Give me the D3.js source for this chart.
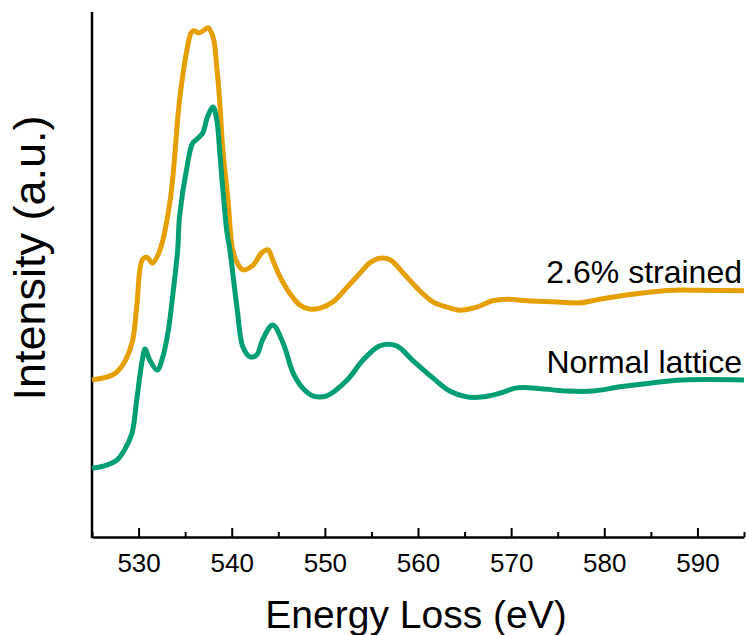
<!DOCTYPE html>
<html>
<head>
<meta charset="utf-8">
<script src="https://cdn.jsdelivr.net/npm/d3@7"></script>
<style>
  body { margin: 0; background: #fff; }
  text { font-family: "Liberation Sans", Arial, sans-serif; fill: #000; }
</style>
</head>
<body>
<div id="chart"></div>
<script>
// energy loss (eV) and intensity (a.u.)
var strainedEnergy = [525.0, 527.25, 528.3, 529.3, 529.8, 530.4, 530.9, 531.5, 532.3, 533.4,
    534.4, 535.2, 535.7, 536.05, 536.4, 537.1, 537.45, 538.0, 538.4, 538.7, 539.05, 539.6,
    540.1, 540.6, 541.2, 542.3, 543.2, 543.9, 544.4, 545.2, 546.2, 547.3, 548.4, 549.5,
    550.9, 552.4, 553.8, 554.8, 555.9, 557.0, 558.4, 559.9, 561.6, 563.1, 564.5, 566.3,
    568.0, 569.5, 571.7, 574.5, 577.4, 579.5, 582.4, 585.2, 587.3, 590.2, 595.0];
var strainedIntensity = [29.9, 30.9, 32.8, 37.0, 43.8, 52.8, 53.3, 52.2, 54.7, 64.2,
    83.2, 92.8, 96.2, 96.4, 96.0, 96.6, 97.0, 95.2, 89.5, 83.2, 73.7, 64.2,
    54.7, 52.2, 50.9, 51.8, 54.1, 54.7, 52.8, 49.5, 46.5, 44.2, 43.4, 43.6,
    44.8, 47.6, 50.3, 52.2, 53.1, 52.8, 50.3, 47.4, 44.8, 43.8, 43.2, 43.8,
    45.0, 45.3, 45.0, 44.8, 44.6, 45.3, 46.1, 46.7, 47.0, 47.0, 46.9];

var normalEnergy = [525.0, 526.6, 527.7, 528.5, 529.3, 529.8, 530.4, 530.7, 531.2, 532.0,
    532.6, 533.2, 533.7, 534.2, 534.4, 535.2, 535.8, 536.4, 536.9, 537.4, 538.0, 538.4,
    538.7, 539.05, 539.5, 539.8, 540.6, 541.2, 542.0, 542.7, 543.3, 544.4, 545.5, 546.6,
    547.6, 548.7, 550.2, 552.4, 554.1, 555.9, 557.7, 559.4, 561.6, 563.4, 565.2, 567.0,
    568.8, 570.6, 572.3, 576.0, 578.8, 581.7, 584.9, 588.4, 595.0];
var normalIntensity = [13.1, 13.7, 14.7, 16.6, 19.8, 26.1, 33.7, 35.8, 33.7, 31.8,
    34.3, 39.4, 46.5, 54.7, 61.0, 70.5, 75.0, 76.0, 77.0, 80.0, 81.9, 79.4,
    73.7, 66.1, 57.9, 54.7, 43.2, 36.2, 34.3, 34.7, 37.5, 40.4, 37.0, 31.2,
    28.4, 26.9, 26.9, 29.9, 33.7, 36.4, 36.4, 33.7, 30.3, 27.8, 26.7, 26.7,
    27.4, 28.4, 28.4, 27.8, 27.8, 28.6, 29.3, 29.9, 29.9];

var seriesNames = ["2.6% strained", "Normal lattice"];
var seriesColors = ["#E69F00", "#009E73"];
var xTicks = [530, 540, 550, 560, 570, 580, 590];
var xMinorTicks = [525, 535, 545, 555, 565, 575, 585, 595];

var width = 746, height = 635;
// note: "top" is taken by window.top, so use plot* names
var plotLeft = 92, plotRight = 744, plotTop = 12, plotBottom = 537;

var svg = d3.select("#chart")
    .append("svg")
    .attr("width", width)
    .attr("height", height);

var xScale = d3.scaleLinear().domain([525, 595]).range([plotLeft, plotRight]);
var yScale = d3.scaleLinear().domain([0, 100]).range([plotBottom, plotTop]);

// minor ticks (short, pointing up)
svg.append("g")
    .attr("transform", "translate(0," + plotBottom + ")")
    .call(d3.axisBottom(xScale).tickValues(xMinorTicks).tickSizeInner(-5).tickSizeOuter(0).tickFormat(""))
    .call(function (g) { g.select(".domain").remove(); })
    .selectAll("line").attr("stroke", "#000").attr("stroke-width", 2);

// x axis with major ticks
var xAxis = svg.append("g")
    .attr("transform", "translate(0," + plotBottom + ")")
    .call(d3.axisBottom(xScale).tickValues(xTicks).tickSizeInner(-9).tickSizeOuter(0).tickPadding(17).tickFormat(d3.format("d")));
xAxis.select(".domain").attr("stroke", "#000").attr("stroke-width", 2.5);
xAxis.selectAll("line").attr("stroke", "#000").attr("stroke-width", 2);
xAxis.selectAll("text")
    .style("font-family", "'Liberation Sans', Arial, sans-serif")
    .style("font-size", "26px")
    .attr("fill", "#000");

// y axis, line only
svg.append("line")
    .attr("x1", plotLeft).attr("x2", plotLeft)
    .attr("y1", plotTop).attr("y2", plotBottom + 1)
    .attr("stroke", "#000")
    .attr("stroke-width", 2.5);

var line = d3.line()
    .x(function (d) { return xScale(d[0]); })
    .y(function (d) { return yScale(d[1]); })
    .curve(d3.curveCatmullRom.alpha(0.5));

var series = [
    d3.zip(strainedEnergy, strainedIntensity),
    d3.zip(normalEnergy, normalIntensity)
];

svg.selectAll("path.spectrum")
    .data(series)
    .enter()
    .append("path")
    .attr("class", "spectrum")
    .attr("d", line)
    .attr("fill", "none")
    .attr("stroke", function (d, i) { return seriesColors[i]; })
    .attr("stroke-width", 5)
    .attr("stroke-linejoin", "round");

// series labels
svg.selectAll("text.series-label")
    .data(seriesNames)
    .enter()
    .append("text")
    .attr("class", "series-label")
    .attr("x", 742)
    .attr("y", function (d, i) { return i === 0 ? 283 : 373; })
    .attr("text-anchor", "end")
    .style("font-size", "32px")
    .text(function (d) { return d; });

// axis titles
svg.append("text")
    .attr("x", (plotLeft + plotRight) / 2 - 2)
    .attr("y", 628)
    .attr("text-anchor", "middle")
    .style("font-size", "39px")
    .text("Energy Loss (eV)");

svg.append("text")
    .attr("transform", "translate(45,258) rotate(-90)")
    .attr("text-anchor", "middle")
    .style("font-size", "45px")
    .text("Intensity (a.u.)");
</script>
</body>
</html>
